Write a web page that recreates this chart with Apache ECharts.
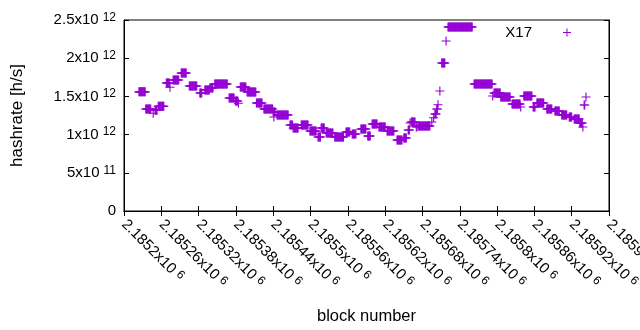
<!DOCTYPE html>
<html>
<head>
<meta charset="utf-8">
<script src="https://cdn.jsdelivr.net/npm/echarts@6/dist/echarts.min.js"></script>
<style>
  html, body { margin: 0; padding: 0; background: #fff; }
  #chart { width: 640px; height: 330px; }
</style>
</head>
<body>
<div id="chart"></div>
<script>
// runs of blocks that share one hashrate value
const runStart = [
  2185224, 2185235, 2185247, 2185250, 2185255, 2185268, 2185274, 2185279, 2185292, 2185305,
  2185322, 2185330, 2185338, 2185346, 2185369, 2185379, 2185384, 2185387, 2185398, 2185413,
  2185425, 2185440, 2185441, 2185446, 2185467, 2185472, 2185485, 2185499, 2185512, 2185517,
  2185525, 2185539, 2185557, 2185567, 2185581, 2185592, 2185599, 2185610, 2185623, 2185639,
  2185650, 2185657, 2185660, 2185662, 2185670, 2185673, 2185695, 2185698, 2185700, 2185703,
  2185705, 2185708, 2185711, 2185718, 2185721, 2185763, 2185793, 2185795, 2185806, 2185824,
  2185838, 2185843, 2185858, 2185864, 2185880, 2185893, 2185904, 2185916, 2185924, 2185933,
  2185938, 2185940, 2185943
]
const runEnd = [
  2185234, 2185243, 2185247, 2185253, 2185264, 2185273, 2185274, 2185288, 2185300, 2185317,
  2185325, 2185337, 2185343, 2185366, 2185377, 2185383, 2185384, 2185396, 2185412, 2185422,
  2185439, 2185443, 2185441, 2185464, 2185471, 2185480, 2185496, 2185509, 2185516, 2185522,
  2185536, 2185553, 2185563, 2185573, 2185589, 2185596, 2185607, 2185620, 2185634, 2185647,
  2185654, 2185659, 2185660, 2185668, 2185671, 2185692, 2185695, 2185698, 2185702, 2185704,
  2185705, 2185708, 2185716, 2185718, 2185760, 2185792, 2185793, 2185805, 2185821, 2185837,
  2185838, 2185856, 2185861, 2185875, 2185888, 2185900, 2185912, 2185920, 2185932, 2185937,
  2185938, 2185941, 2185943
]
const runValue = [
  1.56e12, 1.335e12, 1.28e12, 1.32e12, 1.37e12, 1.675e12, 1.62e12, 1.715e12, 1.805e12, 1.636e12,
  1.545e12, 1.584e12, 1.61e12, 1.662e12, 1.479e12, 1.44e12, 1.41e12, 1.623e12, 1.558e12, 1.414e12,
  1.335e12, 1.296e12, 1.23e12, 1.257e12, 1.126e12, 1.086e12, 1.126e12, 1.047e12, 0.969e12, 1.086e12,
  1.021e12, 0.969e12, 1.034e12, 1.008e12, 1.073e12, 0.982e12, 1.139e12, 1.10e12, 1.047e12, 0.929e12,
  0.956e12, 1.06e12, 1.152e12, 1.165e12, 1.10e12, 1.113e12, 1.165e12, 1.22e12, 1.27e12, 1.335e12,
  1.39e12, 1.57e12, 1.937e12, 2.225e12, 2.408e12, 1.662e12, 1.505e12, 1.545e12, 1.492e12, 1.40e12,
  1.361e12, 1.505e12, 1.361e12, 1.414e12, 1.335e12, 1.309e12, 1.257e12, 1.23e12, 1.204e12, 1.152e12,
  1.10e12, 1.387e12, 1.492e12
]

const yTicks = [0, 5e11, 1e12, 1.5e12, 2e12, 2.5e12]
const yTickBase = ['0', '5x10', '1x10', '1.5x10', '2x10', '2.5x10']
const yTickExp = ['', '11', '12', '12', '12', '12']

const xMin = 2185200
const xMax = 2185980
const xStep = 60

// one point per block
const points = []
runStart.forEach((s, i) => {
  for (let b = s; b <= runEnd[i]; b++) points.push([b, runValue[i]])
})

const purple = '#9400d3'
const plus = 'path://M0,3.5h8v1h-8z M3.5,0h1v8h-1z'
const font = 'Liberation Sans'

const labelRich = {
  b: { fontFamily: font, fontSize: 15, color: '#000' },
  s: { fontFamily: font, fontSize: 12, color: '#000', padding: [0, 0, 5, 4] }
}

function xLabel(v) {
  const t = parseFloat((v / 1e6).toFixed(6)).toString()
  return '{b|' + t + 'x10}{s|6}'
}
function yLabel(v) {
  const i = yTicks.findIndex((t) => Math.abs(t - v) < 1)
  if (i < 0) return ''
  if (!yTickExp[i]) return '{b|' + yTickBase[i] + '}'
  return '{b|' + yTickBase[i] + '}{s|' + yTickExp[i] + '}'
}

const chart = echarts.init(document.getElementById('chart'))

const tickIn = { show: true, inside: true, length: 5, lineStyle: { color: '#000' } }

chart.setOption({
  animation: false,
  backgroundColor: '#fff',
  grid: {
    left: 124, right: 31, top: 20, bottom: 119,
    outerBoundsMode: 'none', containLabel: false,
    show: true, borderColor: '#000', borderWidth: 1
  },
  legend: {
    right: 64, top: 20,
    icon: plus, itemWidth: 8, itemHeight: 8, align: 'right',
    itemStyle: { color: purple },
    textStyle: { fontFamily: font, fontSize: 15, color: '#000', padding: [0, 26, 0, 0] },
    data: ['X17']
  },
  xAxis: [
    {
      type: 'value', min: xMin, max: xMax, interval: xStep,
      name: 'block number', nameLocation: 'middle', nameGap: 97,
      nameTextStyle: { fontFamily: font, fontSize: 16.5, color: '#000' },
      axisLine: { show: true, lineStyle: { color: '#000' } },
      axisTick: tickIn,
      splitLine: { show: false },
      axisLabel: { rotate: -45, margin: 11, formatter: xLabel, rich: labelRich, showMaxLabel: true }
    },
    {
      type: 'value', position: 'top', min: xMin, max: xMax, interval: xStep,
      axisLine: { show: true, lineStyle: { color: '#000' } },
      axisTick: tickIn, axisLabel: { show: false }, splitLine: { show: false }
    }
  ],
  yAxis: [
    {
      type: 'value', min: 0, max: 2.5e12, interval: 5e11,
      name: 'hashrate [h/s]', nameLocation: 'middle', nameGap: 98,
      nameTextStyle: { fontFamily: font, fontSize: 17, color: '#000' },
      axisLine: { show: true, lineStyle: { color: '#000' } },
      axisTick: tickIn,
      splitLine: { show: false },
      axisLabel: { margin: 8, formatter: yLabel, rich: labelRich }
    },
    {
      type: 'value', position: 'right', min: 0, max: 2.5e12, interval: 5e11,
      axisLine: { show: true, lineStyle: { color: '#000' } },
      axisTick: tickIn, axisLabel: { show: false }, splitLine: { show: false }
    }
  ],
  series: [
    {
      name: 'X17',
      type: 'scatter',
      symbol: plus,
      symbolSize: 9,
      itemStyle: { color: purple, opacity: 1 },
      emphasis: { disabled: true },
      data: points
    }
  ]
})
</script>
</body>
</html>
